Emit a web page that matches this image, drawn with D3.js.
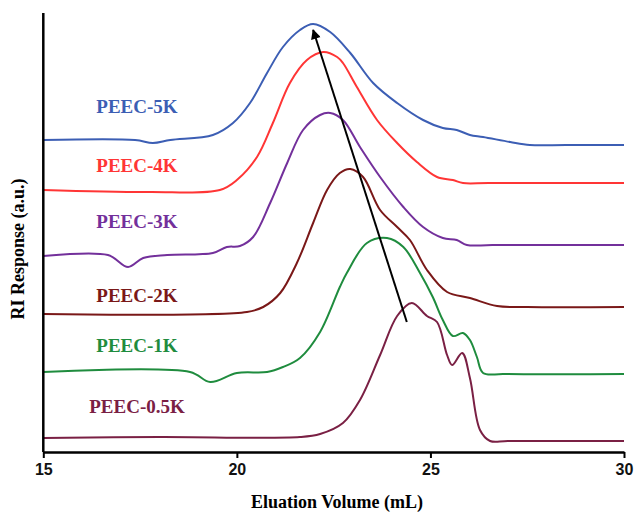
<!DOCTYPE html>
<html>
<head>
<meta charset="utf-8">
<script src="https://cdn.jsdelivr.net/npm/d3@7"></script>
<style>
  body { margin: 0; background: #fff; }
  svg { display: block; }
</style>
</head>
<body>
<div id="chart"></div>
<script>
// GPC traces, [elution volume (mL), RI response (a.u.)]
var peec5k = [[15.0,31.2],[17.37,31.2],[17.83,30.9],[18.28,31.2],[19.38,31.7],[19.90,32.9],[20.34,34.9],[20.78,37.9],[21.19,40.5],[21.63,42.2],[21.97,42.8],[22.41,42.0],[22.93,39.9],[23.52,36.9],[24.14,34.9],[24.81,33.2],[25.32,32.4],[25.68,32.2],[26.02,31.7],[26.36,31.5],[27.06,31.0],[27.57,30.7],[28.5,30.7],[30.0,30.7]];
var peec4k = [[15.0,26.2],[17.76,26.0],[19.56,26.2],[20.00,27.2],[20.52,29.5],[20.93,32.9],[21.37,36.9],[21.81,39.2],[22.23,40.0],[22.59,39.5],[22.74,38.9],[23.10,36.5],[23.62,33.2],[24.14,30.9],[24.65,29.0],[25.17,27.5],[25.58,27.2],[25.84,26.9],[26.5,26.9],[30.0,26.9]];
var peec3k = [[15.0,19.6],[16.67,19.7],[17.19,18.5],[17.58,19.4],[18.20,19.7],[19.38,19.9],[19.74,20.5],[20.08,20.6],[20.42,21.5],[20.86,24.9],[21.30,28.9],[21.71,32.2],[22.15,33.7],[22.41,33.9],[22.74,33.2],[23.18,30.5],[23.70,27.5],[24.30,24.5],[24.81,22.5],[25.32,21.4],[25.68,21.2],[25.94,20.7],[26.6,20.7],[30.0,20.7]];
var peec2k = [[15.0,13.8],[20.26,14.0],[20.68,14.5],[21.12,15.9],[21.55,18.9],[21.97,22.9],[22.33,26.2],[22.66,27.9],[22.93,28.3],[23.26,27.5],[23.70,24.2],[24.14,22.5],[24.47,21.2],[24.91,18.2],[25.43,16.0],[26.02,15.4],[26.72,14.6],[27.5,14.5],[30.0,14.5]];
var peec1k = [[15.0,8.0],[18.79,8.0],[19.31,7.0],[20.00,7.9],[20.78,8.0],[21.19,8.5],[21.63,9.4],[22.15,12.0],[22.66,16.5],[22.84,17.9],[23.36,20.9],[23.88,21.4],[24.30,20.5],[24.73,17.9],[25.06,15.5],[25.32,13.2],[25.58,11.6],[25.84,11.9],[26.02,11.2],[26.20,9.5],[26.36,7.9],[26.9,7.8],[30.0,7.8]];
var peec05k = [[15.0,1.4],[18.0,1.5],[21.63,1.5],[22.15,1.8],[22.74,2.9],[23.18,5.2],[23.70,9.7],[24.14,13.6],[24.52,14.9],[24.91,13.6],[25.17,13.0],[25.43,9.7],[25.56,8.7],[25.82,9.9],[26.02,7.4],[26.28,2.2],[26.54,1.1],[27.0,1.1],[30.0,1.1]];

var names = ['PEEC-5K','PEEC-4K','PEEC-3K','PEEC-2K','PEEC-1K','PEEC-0.5K'];
var colors = ['#3c5eb4','#ff3535','#73309b','#7a1818','#1f8c3e','#7a2044'];
var xTicks = [15, 20, 25, 30];
// trend arrow, tail -> head
var arrowPts = [[24.39,13.0],[21.97,42.2]];

var series = [peec5k, peec4k, peec3k, peec2k, peec1k, peec05k];
// label heights (a.u.) beside each trace
var labelY = [33.9, 28.0, 22.4, 15.0, 10.0, 3.9];

var W = 634, H = 513;
var svg = d3.select('#chart').append('svg')
    .attr('width', W)
    .attr('height', H);

var x = d3.scaleLinear().domain([15, 30]).range([43.3, 624]);
var y = d3.scaleLinear().domain([0, 43.9]).range([452, 13]);

var serif = '"Liberation Serif", "Times New Roman", serif';

var line = d3.line()
    .x(function(d){ return x(d[0]); })
    .y(function(d){ return y(d[1]); })
    .curve(d3.curveCatmullRom.alpha(0.5));

svg.selectAll('path.trace')
    .data(series)
    .enter()
    .append('path')
    .attr('class', 'trace')
    .attr('d', line)
    .attr('fill', 'none')
    .attr('stroke', function(d, i){ return colors[i]; })
    .attr('stroke-width', 2);

svg.selectAll('text.lbl')
    .data(names)
    .enter()
    .append('text')
    .attr('class', 'lbl')
    .attr('x', x(17.42))
    .attr('y', function(d, i){ return y(labelY[i]); })
    .attr('text-anchor', 'middle')
    .attr('font-family', serif)
    .attr('font-weight', 'bold')
    .attr('font-size', 19)
    .attr('fill', function(d, i){ return colors[i]; })
    .text(function(d){ return d; });

// arrow
svg.append('defs').append('marker')
    .attr('id', 'head')
    .attr('viewBox', '0 0 10 10')
    .attr('refX', 9)
    .attr('refY', 5)
    .attr('markerWidth', 6)
    .attr('markerHeight', 5)
    .attr('markerUnits', 'strokeWidth')
    .attr('orient', 'auto')
    .append('path')
    .attr('d', 'M0,0 L10,5 L0,10 z')
    .attr('fill', '#000');

svg.append('line')
    .attr('x1', x(arrowPts[0][0]))
    .attr('y1', y(arrowPts[0][1]))
    .attr('x2', x(arrowPts[1][0]))
    .attr('y2', y(arrowPts[1][1]))
    .attr('stroke', '#000')
    .attr('stroke-width', 2)
    .attr('marker-end', 'url(#head)');

// axes
var xAxis = svg.append('g')
    .attr('transform', 'translate(0,' + y(0) + ')')
    .call(d3.axisBottom(x).tickValues(xTicks).tickSize(6).tickPadding(6).tickSizeOuter(0));
xAxis.select('.domain').attr('stroke-width', 2.5);
xAxis.selectAll('.tick line').attr('stroke-width', 2);
xAxis.selectAll('.tick text')
    .attr('font-family', '"Liberation Sans", Arial, sans-serif')
    .attr('font-weight', 'bold')
    .attr('font-size', 16)
    .attr('fill', '#111');

svg.append('line')
    .attr('x1', x(15)).attr('x2', x(15))
    .attr('y1', y(43.9)).attr('y2', y(0))
    .attr('stroke', '#000')
    .attr('stroke-width', 2.5);

svg.append('text')
    .attr('x', 337)
    .attr('y', 508)
    .attr('text-anchor', 'middle')
    .attr('font-family', serif)
    .attr('font-weight', 'bold')
    .attr('font-size', 18)
    .text('Eluation Volume (mL)');

svg.append('text')
    .attr('transform', 'translate(24,249) rotate(-90)')
    .attr('text-anchor', 'middle')
    .attr('font-family', serif)
    .attr('font-weight', 'bold')
    .attr('font-size', 18)
    .text('RI Response (a.u.)');
</script>
</body>
</html>
